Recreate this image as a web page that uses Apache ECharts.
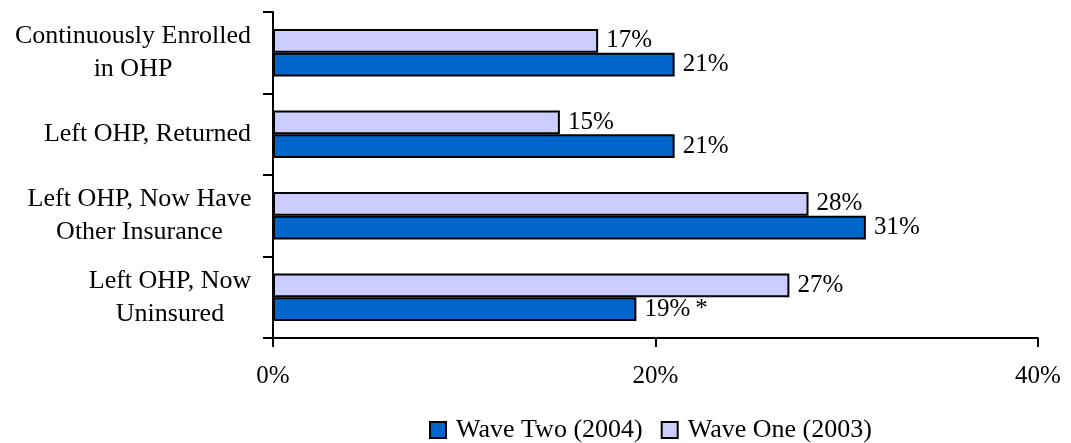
<!DOCTYPE html>
<html>
<head>
<meta charset="utf-8">
<script src="https://cdn.jsdelivr.net/npm/echarts@6/dist/echarts.min.js"></script>
<style>
  html, body { margin: 0; padding: 0; background: #fff; }
  #chart { width: 1071px; height: 443px; }
</style>
</head>
<body>
<div id="chart"></div>
<script>
// ---- data ----
const categories = [
  'Left OHP, Now\nUninsured',
  'Left OHP, Now Have\nOther Insurance',
  'Left OHP, Returned',
  'Continuously Enrolled\nin OHP'
];
const waveTwoValues = [19, 31, 21, 21];
const waveOneValues = [27, 28, 15, 17];
const waveTwoNotes = ['*', '', '', ''];
const seriesNames = ['Wave Two (2004)', 'Wave One (2003)'];
const xTicks = { min: 0, max: 40, interval: 20 };

// ---- styling ----
const FONT = '"Liberation Serif", "Times New Roman", serif';
const CAT_SIZE = 26;

const ctx = document.createElement('canvas').getContext('2d');
ctx.font = CAT_SIZE + 'px ' + FONT;
const rich = {};
categories.forEach(function (c, i) {
  const w = Math.max.apply(null, c.split('\n').map(function (l) { return ctx.measureText(l).width; }));
  rich['c' + i] = { width: Math.ceil(w) + 1, align: 'center', fontSize: CAT_SIZE, fontFamily: FONT, lineHeight: 33, color: '#000' };
});

const chart = echarts.init(document.getElementById('chart'), null, { renderer: 'canvas' });

const option = {
  animation: false,
  backgroundColor: '#fff',
  grid: { left: 273, right: 33, top: 12, bottom: 105, containLabel: false },
  legend: {
    data: seriesNames,
    left: 424,
    top: 412,
    itemWidth: 16,
    itemHeight: 16,
    itemGap: 18,
    icon: 'rect',
    textStyle: { fontFamily: FONT, fontSize: 26, color: '#000', padding: [0, 0, 0, 5] }
  },
  xAxis: {
    type: 'value',
    min: xTicks.min,
    max: xTicks.max,
    interval: xTicks.interval,
    axisLine: { show: true, lineStyle: { color: '#000', width: 2 } },
    axisTick: { show: true, length: 9, lineStyle: { color: '#000', width: 2 } },
    splitLine: { show: false },
    axisLabel: { formatter: '{value}%', fontFamily: FONT, fontSize: 25, color: '#000', margin: 26 }
  },
  yAxis: {
    type: 'category',
    data: categories,
    axisLine: { show: true, lineStyle: { color: '#000', width: 2 } },
    axisTick: { show: true, length: 10, lineStyle: { color: '#000', width: 2 } },
    axisLabel: {
      margin: 21,
      formatter: function (value, idx) {
        return value.split('\n').map(function (l) { return '{c' + idx + '|' + l + '}'; }).join('\n');
      },
      rich: rich
    }
  },
  series: [
    {
      name: seriesNames[1],
      type: 'bar',
      data: waveOneValues,
      barCategoryGap: '42%',
      barGap: '0%',
      itemStyle: { color: '#CCCCFF', borderColor: '#000', borderWidth: 2 },
      label: {
        show: true, position: 'right', distance: 8,
        fontFamily: FONT, fontSize: 25, color: '#000',
        formatter: function (p) { return p.value + '%'; }
      }
    },
    {
      name: seriesNames[0],
      type: 'bar',
      data: waveTwoValues,
      barCategoryGap: '42%',
      barGap: '0%',
      itemStyle: { color: '#0066CC', borderColor: '#000', borderWidth: 2 },
      label: {
        show: true, position: 'right', distance: 8,
        fontFamily: FONT, fontSize: 25, color: '#000',
        formatter: function (p) {
          const n = waveTwoNotes[p.dataIndex];
          return n ? '{v|' + p.value + '%}{s|' + n + '}' : p.value + '%';
        },
        rich: {
          v: { fontFamily: FONT, fontSize: 25, color: '#000' },
          s: { fontFamily: FONT, fontSize: 25, color: '#000', padding: [0, 0, 0, 5] }
        }
      }
    }
  ]
};
chart.setOption(option);
</script>
</body>
</html>
